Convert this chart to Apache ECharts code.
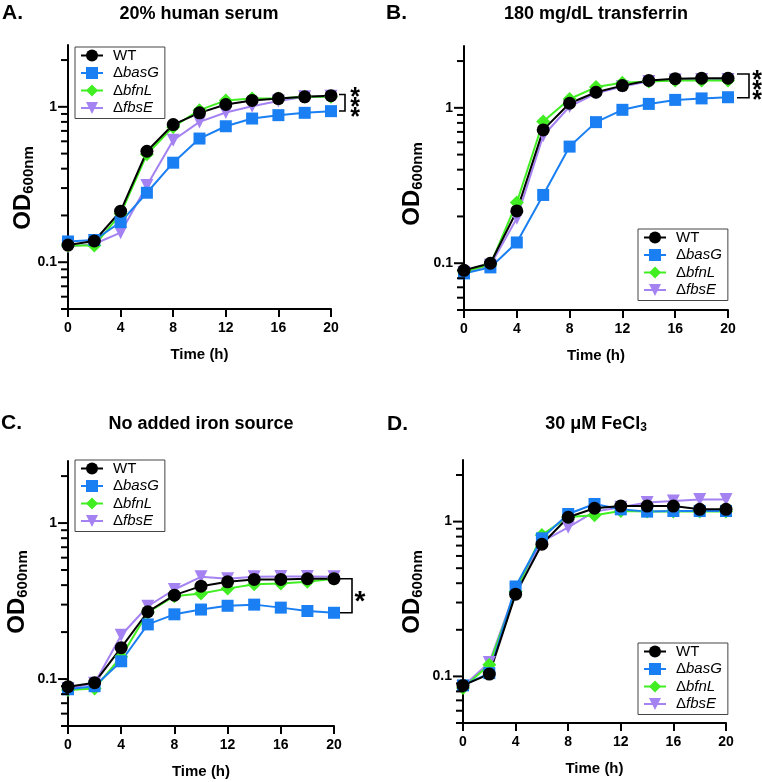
<!DOCTYPE html>
<html><head><meta charset="utf-8">
<script src="https://cdn.jsdelivr.net/npm/echarts@6/dist/echarts.min.js"></script>
<style>html,body{margin:0;padding:0;background:#fff}#c{width:762px;height:782px}</style>
</head><body><div id="c"></div>
<script>
// ---------------- data ----------------
const times = [0, 2, 4, 6, 8, 10, 12, 14, 16, 18, 20];
const strains = ['WT', 'ΔbasG', 'ΔbfnL', 'ΔfbsE'];
const xTickInterval = 4;
const yTickValues = [0.05, 0.06, 0.07, 0.08, 0.09, 0.1, 0.2, 0.3, 0.4, 0.5, 0.6, 0.7, 0.8, 0.9, 1, 2];
const yLabelValues = [0.1, 1];
const panelTitles = ['20% human serum', '180 mg/dL transferrin', 'No added iron source', '30 μM FeCl'];
const panelLetters = ['A.', 'B.', 'C.', 'D.'];

// A: 20% human serum
const serumWT   = [0.129, 0.137, 0.213, 0.518, 0.769, 0.915, 1.035, 1.10, 1.13, 1.16, 1.18];
const serumBasG = [0.136, 0.139, 0.181, 0.280, 0.437, 0.625, 0.750, 0.841, 0.884, 0.915, 0.938];
const serumBfnL = [0.128, 0.128, 0.205, 0.495, 0.743, 0.952, 1.10, 1.13, 1.13, 1.16, 1.16];
const serumFbsE = [0.126, 0.131, 0.155, 0.312, 0.609, 0.80, 0.92, 1.01, 1.09, 1.16, 1.17];
// B: 180 mg/dL transferrin
const tfWT   = [0.090, 0.100, 0.217, 0.721, 1.07, 1.26, 1.39, 1.50, 1.54, 1.55, 1.55];
const tfBasG = [0.086, 0.094, 0.136, 0.275, 0.563, 0.809, 0.971, 1.06, 1.125, 1.15, 1.17];
const tfBfnL = [0.088, 0.098, 0.246, 0.817, 1.14, 1.36, 1.45, 1.48, 1.50, 1.50, 1.50];
const tfFbsE = [0.087, 0.097, 0.195, 0.661, 1.02, 1.24, 1.37, 1.48, 1.51, 1.52, 1.52];
// C: no added iron source
const noFeWT   = [0.0894, 0.0948, 0.159, 0.270, 0.345, 0.394, 0.420, 0.435, 0.435, 0.44, 0.44];
const noFeBasG = [0.086, 0.090, 0.130, 0.224, 0.260, 0.279, 0.295, 0.300, 0.287, 0.273, 0.266];
const noFeBfnL = [0.085, 0.087, 0.139, 0.267, 0.340, 0.353, 0.38, 0.405, 0.41, 0.42, 0.44];
const noFeFbsE = [0.087, 0.094, 0.191, 0.293, 0.375, 0.452, 0.44, 0.452, 0.455, 0.455, 0.452];
// D: 30 uM FeCl3
const feWT   = [0.0875, 0.1035, 0.34, 0.714, 1.067, 1.22, 1.26, 1.26, 1.26, 1.20, 1.20];
const feBasG = [0.0875, 0.105, 0.381, 0.78, 1.12, 1.30, 1.20, 1.16, 1.17, 1.17, 1.17];
const feBfnL = [0.084, 0.119, 0.353, 0.82, 1.07, 1.10, 1.17, 1.16, 1.16, 1.16, 1.16];
const feFbsE = [0.086, 0.123, 0.362, 0.743, 0.918, 1.16, 1.24, 1.33, 1.36, 1.39, 1.39];

// significance brackets: [time, upper OD, lower OD], label
const bracketA = [20, 1.20, 0.94];
const bracketB = [20, 1.65, 1.16];
const bracketC = [20, 0.44, 0.266];
const bracketLabels = ['***', '***', '*', null];

const panelData = [
  [serumWT, serumBasG, serumBfnL, serumFbsE],
  [tfWT, tfBasG, tfBfnL, tfFbsE],
  [noFeWT, noFeBasG, noFeBfnL, noFeFbsE],
  [feWT, feBasG, feBfnL, feFbsE]
];
const panelBrackets = [bracketA, bracketB, bracketC, null];

// ---------------- style / layout ----------------
const FONT = "'Liberation Sans', Arial, Helvetica, sans-serif";
const styles = [
  { color: '#000000', symbol: 'circle', size: 13, rotate: 0 },
  { color: '#1a7ff2', symbol: 'rect', size: 12, rotate: 0 },
  { color: '#40ee22', symbol: 'diamond', size: 14, rotate: 0 },
  { color: '#a582f2', symbol: 'triangle', size: 13, rotate: 180 }
];
const layout = [
  { grid: { left: 68, top: 45, width: 263, height: 264 }, legend: { left: 75, top: 47 }, title: [199, 14], letter: [2, 13], yName: [23, 188], br: { gap: 8, arm: 6, starGap: 10 } },
  { grid: { left: 464, top: 46, width: 264, height: 264 }, legend: { left: 638, top: 229 }, title: [596, 14], letter: [386, 13], yName: [412, 184], br: { gap: 9, arm: 12, starGap: 8 } },
  { grid: { left: 68, top: 461, width: 266, height: 265 }, legend: { left: 75, top: 460 }, title: [201, 424], letter: [1, 423], yName: [17, 592], br: { gap: 6, arm: 12, starGap: 8 } },
  { grid: { left: 463, top: 460, width: 263, height: 263 }, legend: { left: 638, top: 643 }, title: [596, 424], letter: [387, 424], yName: [412, 592], br: null }
];

const grids = [], xAxes = [], yAxes = [], series = [], legends = [], graphics = [];

layout.forEach((L, i) => {
  grids.push(Object.assign({ containLabel: false }, L.grid));
  xAxes.push({
    type: 'value', gridIndex: i, min: 0, max: 20, interval: xTickInterval,
    name: 'Time (h)', nameLocation: 'middle', nameGap: 38,
    nameTextStyle: { fontFamily: FONT, fontSize: 15, fontWeight: 'bold', color: '#000' },
    axisLine: { show: true, lineStyle: { color: '#000', width: 2 } },
    axisTick: { show: true, length: 8, inside: false, lineStyle: { color: '#000', width: 2 } },
    axisLabel: { fontFamily: FONT, fontSize: 14, fontWeight: 'bold', color: '#000', margin: 12 },
    splitLine: { show: false }
  });
  yAxes.push({
    type: 'log', logBase: 10, gridIndex: i, min: 0.05, max: 2.5,
    axisLine: { show: true, lineStyle: { color: '#000', width: 2 } },
    axisTick: { show: false },
    axisLabel: {
      fontFamily: FONT, fontSize: 14, fontWeight: 'bold', color: '#000', margin: 11,
      showMinLabel: false, showMaxLabel: false,
      formatter: v => {
        const l = Math.log10(v);
        if (Math.abs(l - Math.round(l)) < 1e-6) {
          const r = Math.pow(10, Math.round(l));
          return yLabelValues.some(y => Math.abs(y - r) < 1e-9) ? String(r) : '';
        }
        return '';
      }
    },
    splitLine: { show: false }
  });

  // y ticks (major + minor) placed through the axis scale
  series.push({
    type: 'custom', name: 'yticks' + i, xAxisIndex: i, yAxisIndex: i, silent: true, clip: false, z: 5,
    data: yTickValues.map(v => [0, v]),
    renderItem: (params, api) => {
      const v = api.value(1);
      const p = api.coord([0, v]);
      const major = yLabelValues.some(y => Math.abs(y - v) < 1e-9);
      const len = major ? 10 : 7;
      return { type: 'line', shape: { x1: p[0] - len, y1: p[1], x2: p[0] + 1, y2: p[1] }, style: { stroke: '#000', lineWidth: 2 } };
    }
  });

  // lines, drawn so that WT ends on top
  [3, 2, 1, 0].forEach(k => {
    const s = styles[k];
    series.push({
      type: 'line', name: strains[k], xAxisIndex: i, yAxisIndex: i,
      data: times.map((t, j) => [t, panelData[i][k][j]]),
      symbol: s.symbol, symbolSize: s.size, symbolRotate: s.rotate,
      itemStyle: { color: s.color, borderWidth: 0 },
      lineStyle: { color: s.color, width: 2 },
      showSymbol: true, clip: false, z: 3
    });
  });

  // significance bracket
  if (panelBrackets[i]) {
    const cfg = L.br;
    const label = bracketLabels[i];
    series.push({
      type: 'custom', name: 'bracket' + i, xAxisIndex: i, yAxisIndex: i, silent: true, clip: false, z: 6,
      data: [panelBrackets[i]],
      renderItem: (params, api) => {
        const pT = api.coord([api.value(0), api.value(1)]);
        const pB = api.coord([api.value(0), api.value(2)]);
        const x0 = pT[0] + cfg.gap, x1 = x0 + cfg.arm;
        const children = [{
          type: 'polyline',
          shape: { points: [[x0, pT[1]], [x1, pT[1]], [x1, pB[1]], [x0, pB[1]]] },
          style: { stroke: '#000', lineWidth: 1.6, fill: null }
        }];
        const n = label.length;
        const ym = (pT[1] + pB[1]) / 2;
        const step = 10;
        const fs = n === 1 ? 28 : 25;
        for (let k = 0; k < n; k++) {
          children.push({
            type: 'text', x: x1 + cfg.starGap, y: ym + (k - (n - 1) / 2) * step + fs * 0.22,
            style: { text: '*', font: 'bold ' + fs + 'px ' + FONT, fill: '#000', align: 'center', verticalAlign: 'middle', textAlign: 'center', textVerticalAlign: 'middle' }
          });
        }
        return { type: 'group', children };
      }
    });
  }

  legends.push({
    data: strains.slice(), orient: 'vertical', left: L.legend.left, top: L.legend.top,
    itemWidth: 22, itemHeight: 15, itemGap: 2.5, padding: [1, 6, 3, 5],
    borderColor: '#444', borderWidth: 1, borderRadius: 0, backgroundColor: '#fff',
    selectedMode: false, z: 10,
    formatter: name => name === 'WT' ? '{n|WT}' : '{n|Δ}{i|' + name.slice(1) + '}',
    textStyle: {
      fontFamily: FONT, fontSize: 15, color: '#000', padding: [0, 0, 0, 5],
      rich: {
        n: { fontFamily: FONT, fontSize: 15, color: '#000' },
        i: { fontFamily: FONT, fontSize: 15, color: '#000', fontStyle: 'italic' }
      }
    }
  });

  // titles
  graphics.push({
    type: 'text', x: L.letter[0], y: L.letter[1],
    style: { text: panelLetters[i], font: 'bold 21px ' + FONT, fill: '#000', align: 'left', verticalAlign: 'middle', textAlign: 'left', textVerticalAlign: 'middle' }
  });
  if (i === 3) {
    graphics.push({
      type: 'text', x: L.title[0], y: L.title[1],
      style: {
        text: '{m|' + panelTitles[i] + '}{s|3}', fill: '#000', align: 'center', verticalAlign: 'middle', textAlign: 'center', textVerticalAlign: 'middle',
        rich: {
          m: { font: 'bold 18px ' + FONT, fontSize: 18, fontWeight: 'bold', fontFamily: FONT, lineHeight: 20, fill: '#000' },
          s: { font: 'bold 12px ' + FONT, fontSize: 12, fontWeight: 'bold', fontFamily: FONT, lineHeight: 12, padding: [14, 0, 0, 0], verticalAlign: 'bottom', fill: '#000' }
        }
      }
    });
  } else {
    graphics.push({
      type: 'text', x: L.title[0], y: L.title[1],
      style: { text: panelTitles[i], font: 'bold 18px ' + FONT, fill: '#000', align: 'center', verticalAlign: 'middle', textAlign: 'center', textVerticalAlign: 'middle' }
    });
  }
  graphics.push({
    type: 'text', x: L.yName[0], y: L.yName[1], rotation: Math.PI / 2,
    style: {
      text: '{a|OD}{b|600nm}', fill: '#000', align: 'center', verticalAlign: 'middle', textAlign: 'center', textVerticalAlign: 'middle',
      rich: {
        a: { font: 'bold 24px ' + FONT, fontSize: 24, fontWeight: 'bold', fontFamily: FONT, lineHeight: 26, fill: '#000' },
        b: { font: 'bold 15px ' + FONT, fontSize: 15, fontWeight: 'bold', fontFamily: FONT, lineHeight: 15, padding: [11, 0, 0, 0], verticalAlign: 'bottom', fill: '#000' }
      }
    }
  });
});

const chart = echarts.init(document.getElementById('c'), null, { renderer: 'canvas', width: 762, height: 782 });
chart.setOption({
  animation: false,
  backgroundColor: '#fff',
  textStyle: { fontFamily: FONT },
  grid: grids, xAxis: xAxes, yAxis: yAxes, series, legend: legends, graphic: graphics
});
</script></body></html>
